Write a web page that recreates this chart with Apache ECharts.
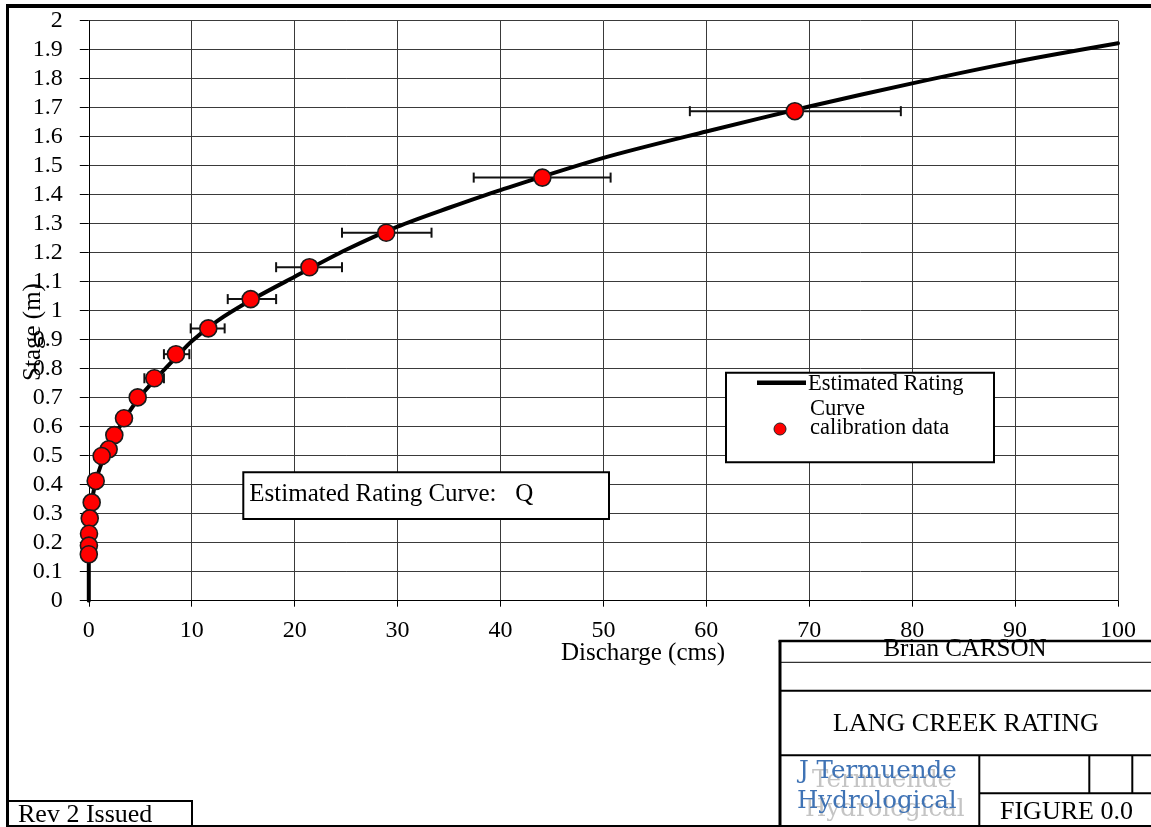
<!DOCTYPE html>
<html>
<head>
<meta charset="utf-8">
<script src="https://cdn.jsdelivr.net/npm/echarts@6/dist/echarts.min.js"></script>
<style>
html,body{margin:0;padding:0;background:#fff;}
#chart{width:1151px;height:827px;}
</style>
</head>
<body>
<div id="chart"></div>
<script>
// ---- data ----
var xTicks = [0, 10, 20, 30, 40, 50, 60, 70, 80, 90, 100];
var yTicks = [0, 0.1, 0.2, 0.3, 0.4, 0.5, 0.6, 0.7, 0.8, 0.9, 1, 1.1, 1.2, 1.3, 1.4, 1.5, 1.6, 1.7, 1.8, 1.9, 2];

// calibration data: discharge (cms), stage (m)
var calQ = [68.6, 44.07, 28.9, 21.44, 15.73, 11.61, 8.47, 6.37, 4.75, 3.42, 2.48, 1.93, 1.25, 0.67, 0.28, 0.09, 0.02, 0.01, 0.0];
var calH = [1.688, 1.459, 1.269, 1.15, 1.04, 0.939, 0.85, 0.767, 0.701, 0.629, 0.571, 0.522, 0.499, 0.413, 0.339, 0.284, 0.231, 0.19, 0.16];
// horizontal error bars on discharge (low / high)
var errLow  = [58.4, 37.4, 24.6, 18.2, 13.5, 9.9, 7.3, 5.4, 4.1, 2.9, 2.1, 1.65, 1.05, 0.57, 0.24, 0.08, 0.02, 0.01, 0.0];
var errHigh = [78.9, 50.7, 33.3, 24.6, 18.2, 13.2, 9.77, 7.3, 5.45, 3.95, 2.85, 2.2, 1.45, 0.77, 0.32, 0.1, 0.02, 0.01, 0.0];

// estimated rating curve: discharge (cms), stage (m)
var curveQ = [0, 0, 0.02, 0.08, 0.25, 0.6, 1.2, 2, 3, 4, 5, 6.5, 8.5, 10, 12.5, 15.7, 20, 25, 30, 35, 40, 50, 60, 70, 80, 90, 100];
var curveH = [0, 0.16, 0.2, 0.26, 0.33, 0.4, 0.47, 0.53, 0.6, 0.655, 0.705, 0.765, 0.84, 0.895, 0.965, 1.035, 1.117, 1.21, 1.29, 1.355, 1.416, 1.527, 1.618, 1.704, 1.784, 1.858, 1.922];

// ---- build ----
var SERIF = '"Liberation Serif", "Times New Roman", serif';
var calData = calQ.map(function (q, i) { return [q, calH[i]]; });
var errData = calH.map(function (h, i) { return [h, errLow[i], errHigh[i]]; });
var curveData = curveQ.map(function (q, i) { return [q, curveH[i]]; });

var chart = echarts.init(document.getElementById('chart'), null, {renderer: 'canvas'});

function txt(text, x, y, size, opts) {
  opts = opts || {};
  return {
    type: 'text', z: opts.z || 200, x: x, y: y, rotation: opts.rotation || 0,
    style: {
      text: text, font: (opts.weight || 'normal') + ' ' + size + 'px ' + (opts.family || SERIF),
      fill: opts.fill || '#000', align: opts.align || 'left', verticalAlign: 'middle'
    }
  };
}
function ln(x1, y1, x2, y2, w) {
  return { type: 'line', z: 200, shape: {x1: x1, y1: y1, x2: x2, y2: y2}, style: {stroke: '#000', lineWidth: w || 1} };
}
var LOGO = '"DejaVu Serif", serif';

var option = {
  backgroundColor: '#fff',
  animation: false,
  grid: { left: 88.8, right: 33, top: 20.7, bottom: 226.3, containLabel: false },
  xAxis: {
    type: 'value', min: 0, max: 100, interval: 10,
    axisLine: { show: true, lineStyle: { color: '#000', width: 1 } },
    axisTick: { show: true, inside: false, length: 6, lineStyle: { color: '#000' } },
    axisLabel: { show: true, margin: 18, fontFamily: SERIF, fontSize: 24, color: '#000',
      formatter: function (v) { return xTicks.indexOf(v) >= 0 ? String(v) : ''; } },
    splitLine: { show: true, lineStyle: { color: '#3a3a3a', width: 1 } }
  },
  yAxis: {
    type: 'value', min: 0, max: 2, interval: 0.1,
    axisLine: { show: true, lineStyle: { color: '#000', width: 1 } },
    axisTick: { show: true, inside: false, length: 9, lineStyle: { color: '#000' } },
    axisLabel: { show: true, margin: 26, fontFamily: SERIF, fontSize: 24, color: '#000',
      formatter: function (v) { return String(yTicks[Math.round(v * 10)]); } },
    splitLine: { show: true, lineStyle: { color: '#3a3a3a', width: 1 } }
  },
  series: [
    {
      name: 'error', type: 'custom', z: 3,
      encode: { x: [1, 2], y: 0 },
      data: errData,
      renderItem: function (params, api) {
        var h = api.value(0), lo = api.value(1), hi = api.value(2);
        var p1 = api.coord([lo, h]), p2 = api.coord([hi, h]);
        var c = 5;
        var st = { stroke: '#111', lineWidth: 2 };
        return { type: 'group', children: [
          { type: 'line', shape: { x1: p1[0], y1: p1[1], x2: p2[0], y2: p2[1] }, style: st },
          { type: 'line', shape: { x1: p1[0], y1: p1[1] - c, x2: p1[0], y2: p1[1] + c }, style: st },
          { type: 'line', shape: { x1: p2[0], y1: p2[1] - c, x2: p2[0], y2: p2[1] + c }, style: st }
        ]};
      },
      silent: true
    },
    {
      name: 'Estimated Rating Curve', type: 'line', z: 4,
      data: curveData, showSymbol: false, symbol: 'none',
      smooth: 0.3,
      lineStyle: { color: '#000', width: 4, join: 'round', cap: 'round' }
    },
    {
      name: 'calibration data', type: 'scatter', z: 5,
      data: calData, symbol: 'circle', symbolSize: 17,
      itemStyle: { color: '#ff0000', borderColor: '#1a1a1a', borderWidth: 1.6, opacity: 1 }
    }
  ],
  graphic: { elements: [
    // axis titles
    txt('Discharge (cms)', 643, 653, 25, { align: 'center' }),
    txt('Stage (m)', 33, 332, 25, { align: 'center', rotation: Math.PI / 2 }),

    // annotation box
    { type: 'rect', z: 190, shape: { x: 243.3, y: 472.3, width: 365.7, height: 46.7 },
      style: { fill: '#fff', stroke: '#000', lineWidth: 2 } },
    txt('Estimated Rating Curve:   Q', 249.3, 494, 25),

    // legend box
    { type: 'rect', z: 190, shape: { x: 726, y: 372.7, width: 268, height: 89.6 },
      style: { fill: '#fff', stroke: '#000', lineWidth: 2 } },
    ln(757, 382.7, 806, 382.7, 4.5),
    txt('Estimated Rating', 808, 384.5, 22.5),
    txt('Curve', 810, 409.5, 22.5),
    { type: 'circle', z: 200, shape: { cx: 780, cy: 429, r: 6 }, style: { fill: '#ff0000', stroke: '#222', lineWidth: 1 } },
    txt('calibration data', 810, 428.5, 22.5),

    // title block
    { type: 'rect', z: 190, shape: { x: 780, y: 641, width: 400, height: 200 },
      style: { fill: '#fff', stroke: null } },
    txt('Brian CARSON', 965, 649, 25, { align: 'center' }),
    ln(778.5, 641, 1151, 641, 2.5),
    ln(780, 641, 780, 827, 3),
    ln(780, 662.3, 1151, 662.3, 1),
    ln(780, 690.7, 1151, 690.7, 2),
    ln(780, 755.3, 1151, 755.3, 2),
    ln(979.3, 755.3, 979.3, 827, 2),
    ln(1089.3, 755.3, 1089.3, 793.3, 2),
    ln(1132.3, 755.3, 1132.3, 793.3, 2),
    ln(979.3, 793.3, 1151, 793.3, 2),
    txt('LANG CREEK RATING', 966, 724, 26, { align: 'center' }),
    txt('FIGURE 0.0', 1000, 812, 26),
    txt('Termuende', 812, 781, 24.5, { family: LOGO, fill: '#c4c4c4', z: 195 }),
    txt('Hydrological', 805, 810, 24.5, { family: LOGO, fill: '#c4c4c4', z: 195 }),
    txt('J Termuende', 799, 772, 24.5, { family: LOGO, fill: '#3f73b5' }),
    txt('Hydrological', 797, 801.5, 24.5, { family: LOGO, fill: '#3f73b5' }),

    // revision box
    { type: 'rect', z: 190, shape: { x: 8, y: 801, width: 184, height: 40 },
      style: { fill: '#fff', stroke: '#000', lineWidth: 2 } },
    txt('Rev 2 Issued', 18, 815.5, 26),

    // outer frame
    ln(6, 6, 1151, 6, 4),
    ln(7.5, 4, 7.5, 827, 3),
    ln(7, 826, 1151, 826, 2)
  ]}
};
chart.setOption(option);
</script>
</body>
</html>
